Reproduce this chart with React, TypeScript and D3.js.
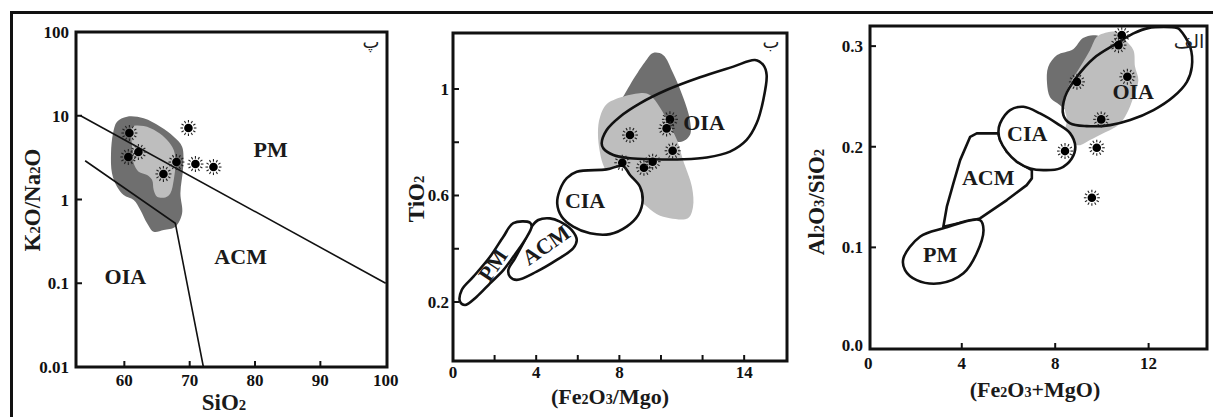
import React from 'react';
import * as d3 from 'd3';

type Pt = [number, number];

// ---------- panel پ : K2O/Na2O vs SiO2 ----------
const siTicks = [60, 70, 80, 90, 100];
const kTicks = [0.01, 0.1, 1, 10, 100];
const kUpperLine: Pt[] = [[53.3, 10], [100, 0.1]];
const kLowerLine: Pt[] = [[54, 2.9], [67.8, 0.52], [72.1, 0.01]];
const kDark: Pt[] = [
  [58.88, 8.49], [60.41, 9.75], [62.96, 9.33], [65.52, 7.4], [67.56, 5.62], [68.84, 4.27],
  [69.0, 2.46], [68.58, 1.19], [68.84, 0.684], [67.82, 0.473], [66.02, 0.432], [64.49, 0.412],
  [63.48, 0.52], [62.45, 0.75], [61.43, 0.986], [59.89, 1.13], [58.88, 1.42], [58.11, 2.06],
  [57.96, 3.56], [58.27, 6.17],
];
const kLight: Pt[] = [
  [61.18, 7.4], [62.96, 7.54], [65.01, 6.45], [66.54, 5.13], [67.56, 3.9], [67.82, 2.7],
  [67.56, 1.71], [67.05, 1.19], [66.28, 1.06], [65.01, 1.08], [64.49, 1.3], [64.25, 1.71],
  [63.48, 1.96], [62.19, 2.15], [61.43, 2.7], [61.18, 4.27], [61.07, 6.17],
];
const kSamples: Pt[] = [
  [60.77, 6.22], [60.61, 3.22], [62.15, 3.69], [65.98, 2.02],
  [67.97, 2.8], [69.81, 7.14], [70.88, 2.65], [73.64, 2.44],
];
const kLabels = [
  { t: 'PM', x: 82.4, y: 3.9 },
  { t: 'ACM', x: 77.8, y: 0.206 },
  { t: 'OIA', x: 60.15, y: 0.122 },
];

// ---------- panel ب : TiO2 vs Fe2O3/MgO ----------
const feTickMarks = [2, 4, 6, 8, 10, 12, 14];
const feTickLabels = [0, 4, 8, 14];
const tiTickMarks = [0.2, 0.4, 0.6, 0.8, 1.0];
const tiTickLabels = [0.2, 0.6, 1];
const tDark: Pt[] = [
  [9.62, 1.135], [10.1, 1.128], [10.58, 1.06], [11.06, 0.97], [11.39, 0.884], [11.39, 0.827],
  [10.91, 0.801], [9.47, 0.884], [8.99, 0.978], [8.17, 0.959], [8.03, 0.947], [8.51, 1.015],
  [9.23, 1.101],
];
const tLight: Pt[] = [
  [9.13, 0.985], [7.45, 0.947], [7.07, 0.895], [6.97, 0.835], [7.07, 0.76], [7.26, 0.708],
  [7.64, 0.659], [8.13, 0.647], [8.51, 0.621], [9.23, 0.564], [9.81, 0.53], [10.43, 0.515],
  [11.3, 0.515], [11.54, 0.557], [11.49, 0.632], [11.06, 0.733], [10.77, 0.808], [10.29, 0.884],
  [9.81, 0.947], [9.47, 0.977],
];
const tOIA: Pt[] = [
  [7.15, 0.796], [7.39, 0.846], [8.03, 0.896], [8.99, 0.946], [10.27, 0.996], [11.88, 1.044],
  [13.48, 1.084], [14.52, 1.109], [14.92, 1.09], [15.08, 1.053], [14.92, 0.959], [14.6, 0.871],
  [14.12, 0.809], [13.32, 0.765], [12.2, 0.743], [11.07, 0.736], [9.63, 0.736], [8.51, 0.74],
  [7.71, 0.752], [7.23, 0.777],
];
const tCIA: Pt[] = [
  [5.95, 0.689], [7.39, 0.698], [8.17, 0.711], [8.51, 0.677], [8.99, 0.633],
  [9.12, 0.583], [8.91, 0.527], [8.35, 0.483], [7.55, 0.455], [6.59, 0.458], [5.78, 0.483],
  [5.23, 0.52], [5.01, 0.571], [5.14, 0.621], [5.47, 0.665],
];
const tACM: Pt[] = [
  [4.1, 0.508], [4.66, 0.514], [5.14, 0.502], [5.71, 0.47], [5.95, 0.433], [5.78, 0.402],
  [4.99, 0.358], [4.02, 0.314], [3.06, 0.283], [2.74, 0.295], [2.66, 0.32], [2.98, 0.364],
  [3.46, 0.433], [3.78, 0.483],
];
const tPM: Pt[] = [
  [2.9, 0.496], [3.7, 0.498], [3.78, 0.483], [3.46, 0.433], [2.9, 0.37], [2.42, 0.32],
  [1.78, 0.27], [1.14, 0.22], [0.58, 0.189], [0.34, 0.201], [0.42, 0.245], [0.98, 0.295],
  [1.78, 0.37], [2.42, 0.445],
];
const tSamples: Pt[] = [
  [8.51, 0.827], [10.43, 0.886], [10.27, 0.852], [10.56, 0.768],
  [8.14, 0.723], [9.18, 0.704], [9.6, 0.727],
];
const tLabels = [
  { t: 'OIA', x: 12.07, y: 0.876, r: 0 },
  { t: 'CIA', x: 6.35, y: 0.583, r: 0 },
  { t: 'ACM', x: 4.47, y: 0.414, r: -35 },
  { t: 'PM', x: 1.92, y: 0.339, r: -56 },
];

// ---------- panel الف : Al2O3/SiO2 vs Fe2O3+MgO ----------
const fmTicks = [4, 8, 12];
const fmTickLabels = [0, 4, 8, 12];
const alTicks = [0.1, 0.2, 0.3];
const alTickLabels = [0, 0.1, 0.2, 0.3];
const aDark: Pt[] = [
  [7.7, 0.2792], [8.08, 0.2911], [8.77, 0.297], [9.19, 0.308], [9.62, 0.3109], [9.92, 0.3089],
  [9.71, 0.2761], [8.64, 0.2364], [8.08, 0.2434], [7.78, 0.2493], [7.65, 0.2632],
];
const aLight: Pt[] = [
  [10.06, 0.3126], [10.57, 0.3142], [10.99, 0.306], [11.35, 0.296], [11.42, 0.2794],
  [11.56, 0.2662], [11.35, 0.2496], [11.14, 0.2364], [10.78, 0.2232], [10.06, 0.2133],
  [9.49, 0.2066], [9.07, 0.2016], [8.71, 0.2033], [8.42, 0.2133], [8.5, 0.2265],
  [8.35, 0.2464], [8.64, 0.2629], [9.07, 0.2794], [9.49, 0.296], [9.78, 0.3092],
];
const aOIA: Pt[] = [
  [8.35, 0.2315], [8.42, 0.2496], [8.93, 0.2695], [9.64, 0.2878], [10.64, 0.3027],
  [11.35, 0.3126], [11.98, 0.3179], [13.22, 0.3179], [13.35, 0.3159], [13.78, 0.2993],
  [13.85, 0.2794], [13.64, 0.2645], [13.06, 0.2496], [12.21, 0.2364], [11.21, 0.2265],
  [10.35, 0.2215], [9.35, 0.2205], [8.64, 0.2232],
];
const aCIA: Pt[] = [
  [5.64, 0.2232], [6.07, 0.2364], [6.64, 0.2397], [7.35, 0.2331], [8.07, 0.2232],
  [8.64, 0.2133], [8.86, 0.2], [8.71, 0.1884], [8.21, 0.1785], [7.49, 0.1768],
  [6.93, 0.1785], [6.36, 0.1851], [5.93, 0.195], [5.64, 0.2066], [5.57, 0.2149],
];
const aACM: Pt[] = [
  [5.57, 0.2133], [4.64, 0.2133], [4.36, 0.2099], [3.93, 0.1867], [3.64, 0.1636],
  [3.36, 0.1404], [3.21, 0.1205], [4.78, 0.1288], [5.93, 0.147], [6.78, 0.1619],
  [7.0, 0.1686], [7.0, 0.1768], [6.36, 0.1851], [5.93, 0.195], [5.64, 0.2066],
];
const aPM: Pt[] = [
  [3.21, 0.1189], [4.78, 0.1271], [4.93, 0.1172], [4.64, 0.0941], [4.07, 0.0742],
  [3.07, 0.0643], [2.07, 0.0675], [1.57, 0.0775], [1.5, 0.0891], [2.21, 0.1106],
];
const aSamples: Pt[] = [
  [10.85, 0.3109], [10.71, 0.301], [8.93, 0.2645], [11.09, 0.2695],
  [9.97, 0.2272], [8.42, 0.1957], [9.78, 0.199], [9.57, 0.1493],
];
const aLabels = [
  { t: 'OIA', x: 11.34, y: 0.2553 },
  { t: 'CIA', x: 6.8, y: 0.2136 },
  { t: 'ACM', x: 5.13, y: 0.1699 },
  { t: 'PM', x: 3.07, y: 0.0934 },
];

const SERIF = '"Liberation Serif", "Times New Roman", serif';
const DARK = '#6f6f6f';
const LIGHT = '#bebebe';

function Chem({ text, size }: { text: string; size: number }) {
  return (
    <>
      {text.split(/(\d)/).filter((s) => s).map((s, i) =>
        /\d/.test(s) ? (
          <tspan key={i} fontSize={size * 0.64}>{s}</tspan>
        ) : (
          <tspan key={i}>{s}</tspan>
        )
      )}
    </>
  );
}

function Star({ x, y }: { x: number; y: number }) {
  const rays = d3.range(12).map((i) => (i * 2 * Math.PI) / 12);
  return (
    <g transform={`translate(${x},${y})`}>
      {rays.map((a, i) => (
        <line key={i} x1={Math.cos(a) * 5.4} y1={Math.sin(a) * 5.4}
          x2={Math.cos(a) * 8} y2={Math.sin(a) * 8} stroke="#222" strokeWidth={1.1} />
      ))}
      <circle r={4.3} fill="#000" />
    </g>
  );
}

export default function App() {
  // left
  const lx = d3.scaleLinear().domain([52.6, 100.2]).range([76, 387]);
  const ly = d3.scaleLog().domain([0.01, 100]).range([367, 32]);
  const lLine = d3.line<Pt>().x((d) => lx(d[0])).y((d) => ly(d[1]));
  const lBlob = d3.line<Pt>().x((d) => lx(d[0])).y((d) => ly(d[1])).curve(d3.curveCatmullRomClosed.alpha(0.5));

  // middle
  const mx = d3.scaleLinear().domain([0, 16.06]).range([453, 787]);
  const my = d3.scaleLinear().domain([-0.0216, 1.2103]).range([361, 33]);
  const mBlob = d3.line<Pt>().x((d) => mx(d[0])).y((d) => my(d[1])).curve(d3.curveCatmullRomClosed.alpha(0.5));

  // right
  const rx = d3.scaleLinear().domain([0.07, 14.5]).range([870, 1207]);
  const ry = d3.scaleLinear().domain([0, 0.32]).range([348, 26]);
  const rBlob = d3.line<Pt>().x((d) => rx(d[0])).y((d) => ry(d[1])).curve(d3.curveCatmullRomClosed.alpha(0.5));
  const rPoly = d3.line<Pt>().x((d) => rx(d[0])).y((d) => ry(d[1])).curve(d3.curveLinearClosed);

  const tickFont = { fontFamily: SERIF, fontWeight: 700, fontSize: 17, fill: '#111' } as const;
  const labFont = { fontFamily: SERIF, fontWeight: 700, fontSize: 22, fill: '#1a1a1a' } as const;
  const titleFont = { ...labFont, fontSize: 23 } as const;

  return (
    <svg width={1213} height={417} style={{ position: 'absolute', left: 0, top: 0, background: '#fff' }}>
      {/* outer frame */}
      <line x1={10} y1={12.5} x2={1213} y2={12.5} stroke="#111" strokeWidth={3} />
      <line x1={11.5} y1={11} x2={11.5} y2={417} stroke="#111" strokeWidth={3} />

      {/* ===== left panel ===== */}
      <path d={lBlob(kDark) ?? ''} fill={DARK} />
      <path d={lBlob(kLight) ?? ''} fill={LIGHT} />
      <path d={lLine(kUpperLine) ?? ''} fill="none" stroke="#111" strokeWidth={1.6} />
      <path d={lLine(kLowerLine) ?? ''} fill="none" stroke="#111" strokeWidth={1.6} />
      {kSamples.map((d, i) => <Star key={i} x={lx(d[0])} y={ly(d[1])} />)}
      {kLabels.map((d) => (
        <text key={d.t} x={lx(d.x)} y={ly(d.y)} textAnchor="middle" dominantBaseline="central" {...labFont}>{d.t}</text>
      ))}
      <rect x={76} y={32} width={311} height={335} fill="none" stroke="#111" strokeWidth={3} />
      {siTicks.slice(0, 4).map((t) => (
        <line key={t} x1={lx(t)} x2={lx(t)} y1={367} y2={361} stroke="#111" strokeWidth={2} />
      ))}
      {kTicks.slice(1, 4).map((t) => (
        <line key={t} x1={76} x2={82} y1={ly(t)} y2={ly(t)} stroke="#111" strokeWidth={2} />
      ))}
      {siTicks.map((t) => (
        <text key={t} x={lx(t)} y={386} textAnchor="middle" {...tickFont}>{t}</text>
      ))}
      {kTicks.map((t) => (
        <text key={t} x={69} y={ly(t) + 6} textAnchor="end" {...tickFont}>{String(t)}</text>
      ))}
      <text x={224} y={410} textAnchor="middle" {...titleFont}><Chem text="SiO2" size={23} /></text>
      <text transform="translate(40,200) rotate(-90)" textAnchor="middle" {...titleFont}><Chem text="K2O/Na2O" size={23} /></text>
      <text x={371} y={48} textAnchor="middle" fontFamily="DejaVu Sans" fontSize={18} fill="#222">پ</text>

      {/* ===== middle panel ===== */}
      <path d={mBlob(tDark) ?? ''} fill={DARK} />
      <path d={mBlob(tLight) ?? ''} fill={LIGHT} />
      <path d={mBlob(tOIA) ?? ''} fill="none" stroke="#111" strokeWidth={2.6} />
      <path d={mBlob(tCIA) ?? ''} fill="#fff" stroke="#111" strokeWidth={2.6} />
      <path d={mBlob(tACM) ?? ''} fill="#fff" stroke="#111" strokeWidth={2.6} />
      <path d={mBlob(tPM) ?? ''} fill="#fff" stroke="#111" strokeWidth={2.6} />
      {tSamples.map((d, i) => <Star key={i} x={mx(d[0])} y={my(d[1])} />)}
      {tLabels.map((d) => (
        <text key={d.t} transform={`translate(${mx(d.x)},${my(d.y)}) rotate(${d.r})`} textAnchor="middle"
          dominantBaseline="central" {...labFont}>{d.t}</text>
      ))}
      <rect x={453} y={33} width={334} height={328} fill="none" stroke="#111" strokeWidth={3} />
      {feTickMarks.map((t) => (
        <line key={t} x1={mx(t)} x2={mx(t)} y1={361} y2={355} stroke="#111" strokeWidth={2} />
      ))}
      {tiTickMarks.map((t) => (
        <line key={t} x1={453} x2={459} y1={my(t)} y2={my(t)} stroke="#111" strokeWidth={2} />
      ))}
      {feTickLabels.map((t) => (
        <text key={t} x={mx(t)} y={378} textAnchor="middle" {...tickFont}>{t}</text>
      ))}
      {tiTickLabels.map((t) => (
        <text key={t} x={449} y={my(t) + 6} textAnchor="end" {...tickFont}>{String(t)}</text>
      ))}
      <text x={610} y={404} textAnchor="middle" {...labFont}><Chem text="(Fe2O3/Mgo)" size={22} /></text>
      <text transform="translate(424,199) rotate(-90)" textAnchor="middle" {...titleFont}><Chem text="TiO2" size={23} /></text>
      <text x={771} y={48} textAnchor="middle" fontFamily="DejaVu Sans" fontSize={18} fill="#222">ب</text>

      {/* ===== right panel ===== */}
      <path d={rBlob(aDark) ?? ''} fill={DARK} />
      <path d={rBlob(aLight) ?? ''} fill={LIGHT} />
      <path d={rPoly(aACM) ?? ''} fill="#fff" stroke="#111" strokeWidth={2.6} strokeLinejoin="round" />
      <path d={rBlob(aPM) ?? ''} fill="#fff" stroke="#111" strokeWidth={2.6} />
      <path d={rBlob(aCIA) ?? ''} fill="#fff" stroke="#111" strokeWidth={2.6} />
      <path d={rBlob(aOIA) ?? ''} fill="none" stroke="#111" strokeWidth={2.6} />
      {aSamples.map((d, i) => <Star key={i} x={rx(d[0])} y={ry(d[1])} />)}
      {aLabels.map((d) => (
        <text key={d.t} x={rx(d.x)} y={ry(d.y)} textAnchor="middle" dominantBaseline="central" {...labFont}>{d.t}</text>
      ))}
      <text x={1189} y={48} textAnchor="middle" fontFamily="DejaVu Sans" fontSize={19} fill="#222">الف</text>
      <rect x={870} y={26} width={337} height={323} fill="none" stroke="#111" strokeWidth={3} />
      {fmTicks.map((t) => (
        <line key={t} x1={rx(t)} x2={rx(t)} y1={349} y2={343} stroke="#111" strokeWidth={2} />
      ))}
      {alTicks.map((t) => (
        <line key={t} x1={870} x2={876} y1={ry(t)} y2={ry(t)} stroke="#111" strokeWidth={2} />
      ))}
      {fmTickLabels.map((t) => (
        <text key={t} x={rx(t)} y={369} textAnchor="middle" {...tickFont}>{t}</text>
      ))}
      {alTickLabels.map((t) => (
        <text key={t} x={863} y={ry(t) + (t === 0 ? 3 : 6)} textAnchor="end" {...tickFont}>{d3.format('.1f')(t)}</text>
      ))}
      <text x={1035} y={397} textAnchor="middle" {...labFont}><Chem text="(Fe2O3+MgO)" size={22} /></text>
      <text transform="translate(824,202) rotate(-90)" textAnchor="middle" {...titleFont}><Chem text="Al2O3/SiO2" size={23} /></text>
    </svg>
  );
}
